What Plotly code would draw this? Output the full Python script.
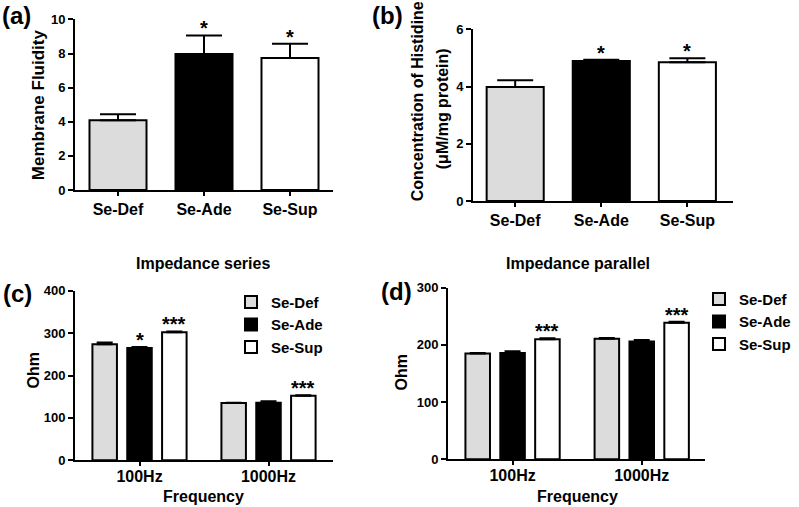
import plotly.graph_objects as go

W, H = 799, 507
FONT = "Liberation Sans"

# ---- data ----
groups = ["Se-Def", "Se-Ade", "Se-Sup"]
group_colors = ["#dcdcdc", "#000000", "#ffffff"]

fluidity = [4.09, 7.98, 7.74]
fluidity_err = [0.35, 1.08, 0.84]
fluidity_sig = ["", "*", "*"]

histidine = [3.99, 4.90, 4.85]
histidine_err = [0.23, 0.04, 0.14]
histidine_sig = ["", "*", "*"]

freqs = ["100Hz", "1000Hz"]
imp_series = {"Se-Def": [274, 135], "Se-Ade": [265, 136], "Se-Sup": [302, 152]}
imp_series_err = {"Se-Def": [4, 1], "Se-Ade": [2.5, 3], "Se-Sup": [2, 1.5]}
imp_series_sig = {"Se-Def": ["", ""], "Se-Ade": ["*", ""], "Se-Sup": ["***", "***"]}

imp_par = {"Se-Def": [185, 211], "Se-Ade": [186, 206], "Se-Sup": [210, 239]}
imp_par_err = {"Se-Def": [1, 1], "Se-Ade": [3, 2.5], "Se-Sup": [1.5, 1.5]}
imp_par_sig = {"Se-Def": ["", ""], "Se-Ade": ["", ""], "Se-Sup": ["***", "***"]}


def px_x(p):
    return p / W


def px_y(p):
    # vertical pixel position (from top) -> paper fraction, with a small
    # correction for the vertical scaling observed in the rendered output
    q = (p - 5.5) / 0.973
    q = min(q, H - 1)
    return 1 - q / H


fig = go.Figure()
annotations = []
STAR_FONT = dict(family=FONT, size=20, color="black", weight=700)

# ---- single-bar panels (a) and (b) ----
single = [
    ("x", "y", fluidity, fluidity_err, fluidity_sig),
    ("x2", "y2", histidine, histidine_err, histidine_sig),
]
for xa, ya, vals, errs, sigs in single:
    fig.add_trace(go.Bar(
        x=groups, y=vals, xaxis=xa, yaxis=ya, width=0.663, showlegend=False,
        marker=dict(color=group_colors, line=dict(color="black", width=2)),
        error_y=dict(type="data", symmetric=False, array=errs,
                     arrayminus=[0] * len(errs), color="black",
                     thickness=2, width=18),
    ))
    for i, s in enumerate(sigs):
        if s:
            annotations.append(dict(
                x=i, y=vals[i] + errs[i], xref=xa, yref=ya, text=s,
                showarrow=False, yanchor="bottom", yshift=-6, font=STAR_FONT))

# ---- grouped panels (c) and (d) ----
pitch = 0.27
bw = 0.19
grouped = [
    ("x3", "y3", imp_series, imp_series_err, imp_series_sig, "legend"),
    ("x4", "y4", imp_par, imp_par_err, imp_par_sig, "legend2"),
]
for xa, ya, vals, errs, sigs, lg in grouped:
    for k, g in enumerate(groups):
        shift = (k - 1) * pitch
        fig.add_trace(go.Bar(
            x=freqs, y=vals[g], xaxis=xa, yaxis=ya, name=g, legend=lg,
            width=bw, offset=shift - bw / 2,
            marker=dict(color=group_colors[k], line=dict(color="black", width=2)),
            error_y=dict(type="data", symmetric=False, array=errs[g],
                         arrayminus=[0] * len(freqs), color="black",
                         thickness=2, width=8),
        ))
        for i, s in enumerate(sigs[g]):
            if s:
                annotations.append(dict(
                    x=i + shift, y=vals[g][i] + errs[g][i], xref=xa, yref=ya,
                    text=s, showarrow=False, yanchor="bottom", yshift=-6,
                    font=STAR_FONT))

axis_common = dict(showline=True, linewidth=2, linecolor="black", ticks="outside",
                   tickwidth=2, tickcolor="black", showgrid=False,
                   zeroline=False, mirror=False)
ytick_font = dict(family=FONT, size=13, color="black", weight=700)
xtick_font = dict(family=FONT, size=16, color="black", weight=700)
legend_font = dict(family=FONT, size=15, color="black", weight=700)
xcommon = dict(ticklen=4, tickfont=xtick_font, type="category", **axis_common)
ycommon = dict(ticklen=5, tickfont=ytick_font, **axis_common)

layout = dict(
    width=W, height=H, margin=dict(l=0, r=0, t=0, b=0),
    paper_bgcolor="white", plot_bgcolor="white", barmode="overlay",
    font=dict(family=FONT, color="black"),
    xaxis=dict(domain=[px_x(75), px_x(333)], anchor="y",
               categoryarray=groups, range=[-0.5, 2.5], **xcommon),
    yaxis=dict(domain=[px_y(189), px_y(18)], anchor="x", range=[0, 10], dtick=2,
               **ycommon),
    xaxis2=dict(domain=[px_x(473), px_x(733)], anchor="y2",
                categoryarray=groups, range=[-0.49, 2.53], **xcommon),
    yaxis2=dict(domain=[px_y(200), px_y(28)], anchor="x2", range=[0, 6], dtick=2,
                **ycommon),
    xaxis3=dict(domain=[px_x(75), px_x(333)], anchor="y3", ticklabelstandoff=-3,
                categoryarray=freqs, range=[-0.5, 1.5], **xcommon),
    yaxis3=dict(domain=[px_y(460), px_y(290)], anchor="x3", range=[0, 400], dtick=100,
                **ycommon),
    xaxis4=dict(domain=[px_x(448), px_x(705)], anchor="y4", ticklabelstandoff=-3,
                categoryarray=freqs, range=[-0.5, 1.49], **xcommon),
    yaxis4=dict(domain=[px_y(459), px_y(287)], anchor="x4", range=[0, 300], dtick=100,
                **ycommon),
    legend=dict(x=px_x(231), y=px_y(285), xanchor="left", yanchor="top",
                font=legend_font, bgcolor="rgba(0,0,0,0)", tracegroupgap=0),
    legend2=dict(x=px_x(699), y=px_y(282), xanchor="left", yanchor="top",
                 font=legend_font, bgcolor="rgba(0,0,0,0)", tracegroupgap=0),
)


def paper_text(text, x, y, size, angle=0):
    annotations.append(dict(
        x=px_x(x), y=px_y(y), xref="paper", yref="paper", text=text,
        showarrow=False, xanchor="center", yanchor="middle", textangle=angle,
        font=dict(family=FONT, size=size, color="black", weight=700)))


# panel letters
paper_text("(a)", 16, 14, 24)
paper_text("(b)", 387, 14, 24)
paper_text("(c)", 17, 293, 24)
paper_text("(d)", 396, 291, 24)
# axis titles
paper_text("Membrane Fluidity", 38, 104, 17, -90)
paper_text("Concentration of Histidine", 417, 100, 16, -90)
paper_text("(μM/mg protein)", 442, 108, 16, -90)
paper_text("Ohm", 34, 370, 16, -90)
paper_text("Ohm", 402, 372, 16, -90)
paper_text("Frequency", 203, 496, 16)
paper_text("Frequency", 577, 496, 16)
# panel titles
paper_text("Impedance series", 203, 263, 16)
paper_text("Impedance parallel", 578, 263, 16)

layout["annotations"] = annotations
fig.update_layout(**layout)
fig.write_html("out.html", config={"displayModeBar": False},
               post_script="document.body.style.margin='0';"
                           "document.body.style.overflow='hidden';")
